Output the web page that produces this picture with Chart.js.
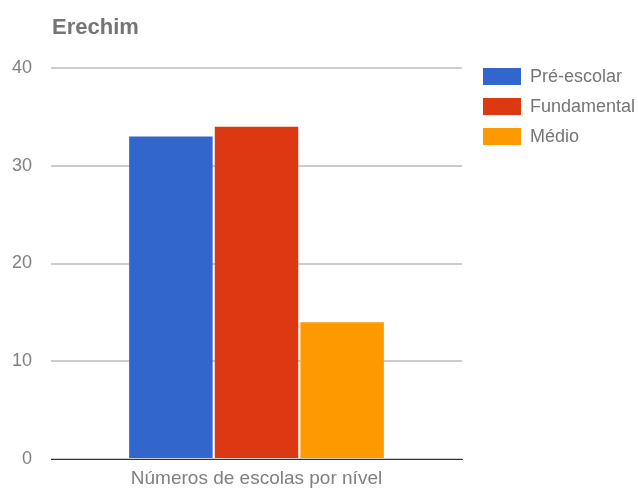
<!DOCTYPE html>
<html>
<head>
<meta charset="utf-8">
<script src="https://cdn.jsdelivr.net/npm/chart.js@4/dist/chart.umd.min.js"></script>
<style>
  body { margin: 0; background: #fff; }
  #wrap { width: 638px; height: 489px; position: relative; }
</style>
</head>
<body>
<div id="wrap"><canvas id="myCanvas"></canvas></div>
<script>
var categories = ['Números de escolas por nível'];
var seriesNames = ['Pré-escolar', 'Fundamental', 'Médio'];
var preEscolar = [33];
var fundamental = [34];
var medio = [14];
var yTicks = [0, 10, 20, 30, 40];

var font = 'Arial, "Liberation Sans", sans-serif';

// title + legend drawn at fixed spots like the original
var sidePlugin = {
    id: 'sideBits',
    afterDraw: function (chart) {
        var c = chart.ctx;
        c.save();
        c.font = 'bold 22px ' + font;
        c.fillStyle = '#757575';
        c.textBaseline = 'alphabetic';
        c.fillText('Erechim', 52, 34);

        c.font = '18px ' + font;
        c.textBaseline = 'middle';
        var top = chart.chartArea.top;
        chart.data.datasets.forEach(function (ds, i) {
            var y = top + i * 30;
            c.fillStyle = ds.backgroundColor;
            c.fillRect(483, y, 38, 17);
            c.fillStyle = '#757575';
            c.fillText(ds.label, 530, y + 9);
        });
        c.restore();
    }
};

var chartdata = {
    labels: categories,
    datasets: [
        { label: seriesNames[0], backgroundColor: '#3366cc', data: preEscolar },
        { label: seriesNames[1], backgroundColor: '#dc3912', data: fundamental },
        { label: seriesNames[2], backgroundColor: '#ff9900', data: medio }
    ]
};

var ctx = document.getElementById('myCanvas');
var barGraph = new Chart(ctx, {
    type: 'bar',
    data: chartdata,
    plugins: [sidePlugin],
    options: {
        responsive: true,
        maintainAspectRatio: false,
        animation: false,
        layout: { padding: { top: 68, left: 12, right: 176, bottom: 0 } },
        datasets: { bar: { categoryPercentage: 0.625, barPercentage: 0.975 } },
        plugins: {
            title: { display: false },
            tooltip: { enabled: false },
            legend: { display: false }
        },
        scales: {
            x: {
                afterFit: function (axis) { axis.height = 30; },
                grid: { display: false, drawTicks: false },
                border: { color: '#333333', width: 1 },
                ticks: { color: '#808080', padding: 8, font: { family: font, size: 19 } }
            },
            y: {
                min: 0,
                max: 40,
                afterFit: function (axis) { axis.width = 39; },
                afterBuildTicks: function (axis) {
                    axis.ticks = yTicks.map(function (v) { return { value: v }; });
                },
                grid: { color: '#cccccc', lineWidth: 2, drawTicks: false },
                border: { display: false },
                ticks: { color: '#808080', padding: 19, font: { family: font, size: 18 } }
            }
        }
    }
});
</script>
</body>
</html>
